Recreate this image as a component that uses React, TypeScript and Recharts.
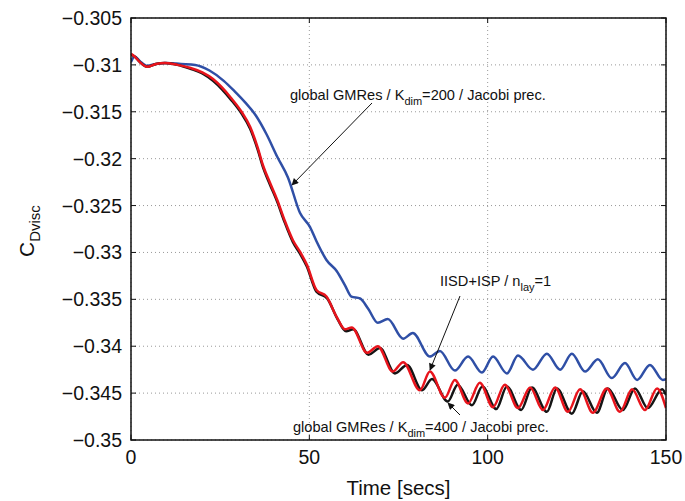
import React from 'react';
import { LineChart, Line, XAxis, YAxis, CartesianGrid } from 'recharts';

// time [secs], C_Dvisc pairs
const gmres200 = [
  [0, -0.3097], [1, -0.3091], [2.5, -0.3096], [4.5, -0.3101], [7, -0.3099], [10, -0.3098],
  [14, -0.3099], [18, -0.31], [22, -0.3106], [26, -0.3117], [29, -0.3128], [32, -0.314],
  [35, -0.3154], [38, -0.3174], [41, -0.3198], [44, -0.322], [47.4, -0.3258], [50.2, -0.3273],
  [52, -0.3288], [54.8, -0.3308], [57.7, -0.332], [60, -0.3335], [61.8, -0.3347], [64.2, -0.3349],
  [66.5, -0.336], [69.2, -0.3375], [72, -0.3371], [76.3, -0.3392], [79, -0.3386], [83.8, -0.3411],
  [86.6, -0.3405], [90.8, -0.3426], [94.5, -0.3411], [98.4, -0.3428], [101.5, -0.3411],
  [105.4, -0.3429], [108.5, -0.341], [112.7, -0.3425], [116.6, -0.3408], [120.3, -0.3425],
  [123.6, -0.3408], [127.3, -0.3427], [130.9, -0.3414], [134.8, -0.3434], [138.5, -0.3418],
  [141.9, -0.3436], [145.5, -0.342], [149.1, -0.3436], [150, -0.3435],
];

const gmres400 = [
  [0, -0.3089], [1, -0.3091], [2.5, -0.3097], [4.5, -0.3102], [7, -0.3099], [9.5, -0.3098],
  [13, -0.31], [16.5, -0.3104], [20, -0.3109], [23, -0.3117], [25.5, -0.3126], [28, -0.3137],
  [31, -0.3152], [33.4, -0.3168], [35.5, -0.319], [37, -0.3209], [39, -0.3228], [41, -0.3246],
  [43, -0.3267], [45.4, -0.3289], [47.5, -0.3302], [49.3, -0.3315], [52, -0.3342], [55, -0.3349],
  [57.9, -0.3371], [60.3, -0.3384], [62.3, -0.3382], [66.6, -0.3409], [69.8, -0.3402],
  [74, -0.3429], [77.4, -0.342], [81.6, -0.3447], [84.4, -0.3435], [88.8, -0.3459],
  [91.6, -0.3441], [95.6, -0.3463], [98.5, -0.3443], [102.4, -0.3467], [105.4, -0.3443],
  [109.4, -0.3468], [112.4, -0.3444], [116.6, -0.347], [119.4, -0.3445], [123.6, -0.3472],
  [126.7, -0.3448], [130.6, -0.3471], [133.7, -0.3445], [137.9, -0.3468], [141.3, -0.3445],
  [144.9, -0.3466], [148.9, -0.3446], [150, -0.3452],
];

const iisd = [
  [0, -0.3088], [1, -0.3091], [2.5, -0.3097], [4.5, -0.3102], [7, -0.3099], [9.5, -0.3098],
  [13, -0.31], [16.5, -0.3103], [20, -0.3108], [23, -0.3115], [25.5, -0.3124], [28, -0.3135],
  [31, -0.315], [33.4, -0.3166], [35.5, -0.3188], [37, -0.3207], [39, -0.3226], [41, -0.3244],
  [43, -0.3265], [45.4, -0.3287], [47.5, -0.33], [49.3, -0.3313], [52, -0.334], [54.8, -0.3347],
  [57.7, -0.3369], [60, -0.3382], [61.9, -0.338], [66.2, -0.3407], [69.2, -0.34], [73.4, -0.3427],
  [76.3, -0.3417], [81, -0.3447], [83.8, -0.3427], [88, -0.3455], [90.8, -0.3436], [94.5, -0.3461],
  [97.8, -0.3439], [101.5, -0.3465], [104.8, -0.3441], [108.5, -0.3466], [111.9, -0.3444],
  [115.5, -0.3468], [118.9, -0.3444], [122.5, -0.347], [125.9, -0.3446], [129.5, -0.3471],
  [133.4, -0.3445], [137.1, -0.347], [140.5, -0.3446], [144.1, -0.3468], [147.5, -0.3445],
  [150, -0.3466],
];

const xTicks = [0, 50, 100, 150];
const yTicks = [-0.35, -0.345, -0.34, -0.335, -0.33, -0.325, -0.32, -0.315, -0.31, -0.305];

const toPoints = (pairs: number[][]) => pairs.map(([t, v]) => ({ t, v }));

const FONT = '"Liberation Sans", Arial, Helvetica, sans-serif';
const W = 685;
const H = 501;
const LEFT = 131;
const RIGHT = 666;
const TOP = 18;
const BOTTOM = 440;

const fmtY = (v: number) => String(Number(v.toFixed(3))).replace('-', '\u2212');

const YTick = (props: any) => {
  const { y, payload } = props;
  return (
    <g>
      <text x={LEFT - 9} y={y} textAnchor="end" dominantBaseline="central" fontSize={19.5} fill="#111" fontFamily={FONT}>
        {fmtY(payload.value)}
      </text>
      <line x1={LEFT} x2={LEFT + 5} y1={y} y2={y} stroke="#111" />
      <line x1={RIGHT} x2={RIGHT - 5} y1={y} y2={y} stroke="#111" />
    </g>
  );
};

const XTick = (props: any) => {
  const { x, payload } = props;
  return (
    <g>
      <text x={x} y={BOTTOM + 24} textAnchor="middle" fontSize={19.5} fill="#111" fontFamily={FONT}>
        {payload.value}
      </text>
      <line x1={x} x2={x} y1={BOTTOM} y2={BOTTOM - 5} stroke="#111" />
      <line x1={x} x2={x} y1={TOP} y2={TOP + 5} stroke="#111" />
    </g>
  );
};

export default function App() {
  return (
    <div style={{ position: 'absolute', left: 0, top: 0, width: W, height: H, background: '#fff' }}>
      <LineChart width={W} height={H} margin={{ top: TOP, right: W - RIGHT, bottom: 31, left: 0 }}>
        <CartesianGrid stroke="#999" strokeDasharray="1 3" />
        <XAxis
          type="number"
          dataKey="t"
          domain={[0, 150]}
          ticks={xTicks}
          height={30}
          tick={<XTick />}
          tickLine={false}
          axisLine={false}
          allowDataOverflow
        />
        <YAxis
          type="number"
          dataKey="v"
          domain={[-0.35, -0.305]}
          ticks={yTicks}
          width={LEFT}
          tick={<YTick />}
          tickLine={false}
          axisLine={false}
          allowDataOverflow
        />
        <Line data={toPoints(gmres200)} dataKey="v" type="monotone" stroke="#2f4fa6" strokeWidth={2.5} dot={false} isAnimationActive={false} />
        <Line data={toPoints(gmres400)} dataKey="v" type="monotone" stroke="#151515" strokeWidth={2.5} dot={false} isAnimationActive={false} />
        <Line data={toPoints(iisd)} dataKey="v" type="monotone" stroke="#e8141c" strokeWidth={2.5} dot={false} isAnimationActive={false} />
      </LineChart>
      <svg width={W} height={H} style={{ position: 'absolute', left: 0, top: 0, pointerEvents: 'none' }} fontFamily={FONT}>
        <defs>
          <marker id="ah" viewBox="0 0 10 10" refX="9" refY="5" markerWidth="9" markerHeight="7" orient="auto" markerUnits="userSpaceOnUse">
            <path d="M0,0 L10,5 L0,10 z" fill="#111" />
          </marker>
        </defs>
        <rect x={LEFT} y={TOP} width={RIGHT - LEFT} height={BOTTOM - TOP} fill="none" stroke="#111" strokeWidth={1.5} />
        <text x={(LEFT + RIGHT) / 2} y={495} textAnchor="middle" fontSize={20.5} fill="#111">Time [secs]</text>
        <text transform="translate(34,257) rotate(-90)" fontSize={21} fill="#111">
          C<tspan dy={6} fontSize={15}>Dvisc</tspan>
        </text>

        <text x={290} y={100} fontSize={14.6} fill="#111">
          global GMRes / K<tspan dy={5} fontSize={11}>dim</tspan><tspan dy={-5}>=200 / Jacobi prec.</tspan>
        </text>
        <line x1={372} y1={103} x2={292} y2={185} stroke="#111" strokeWidth={1} markerEnd="url(#ah)" />

        <text x={440} y={286} fontSize={14.6} fill="#111">
          IISD+ISP / n<tspan dy={5} fontSize={11}>lay</tspan><tspan dy={-5}>=1</tspan>
        </text>
        <line x1={460} y1={296} x2={430} y2={370} stroke="#111" strokeWidth={1} markerEnd="url(#ah)" />

        <text x={293} y={432} fontSize={14.6} fill="#111">
          global GMRes / K<tspan dy={5} fontSize={11}>dim</tspan><tspan dy={-5}>=400 / Jacobi prec.</tspan>
        </text>
        <line x1={460} y1={415} x2={448} y2={403} stroke="#111" strokeWidth={1} markerEnd="url(#ah)" />
      </svg>
    </div>
  );
}
